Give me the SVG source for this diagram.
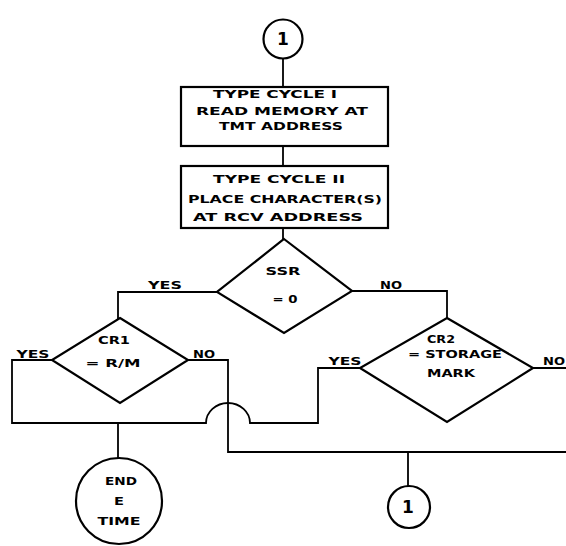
<svg xmlns="http://www.w3.org/2000/svg" width="566" height="546" viewBox="0 0 566 546">
<style>
.shape{fill:#fff;stroke:#000;stroke-width:2.2}
.conn{fill:none;stroke:#000;stroke-width:1.8}
text{font-family:"DejaVu Sans","Liberation Sans",sans-serif;font-weight:bold;font-size:10.5px;fill:#000;text-anchor:middle}
.num{font-size:17px;font-weight:bold}
</style>
<rect width="566" height="546" fill="#fff"/>
<g id="connectors">
<path class="conn" d="M283,58 V87"/>
<path class="conn" d="M283,146 V166"/>
<path class="conn" d="M283,228 V239"/>
<path class="conn" d="M217,292 H118 V319"/>
<path class="conn" d="M352,291 H447 V318"/>
<path class="conn" d="M52,360 H12 V423 H206 A22,20 0 0 1 250,423 H318 V368 H360"/>
<path class="conn" d="M118,423 V458"/>
<path class="conn" d="M188,360 H228 V452 H566"/>
<path class="conn" d="M408,452 V486"/>
<path class="conn" d="M533,368 H566"/>
</g>
<g id="labels">
<text x="165" y="289" textLength="34" lengthAdjust="spacingAndGlyphs">YES</text>
<text x="391" y="289" textLength="22" lengthAdjust="spacingAndGlyphs">NO</text>
<text x="33" y="358" textLength="33" lengthAdjust="spacingAndGlyphs">YES</text>
<text x="204" y="358" textLength="22" lengthAdjust="spacingAndGlyphs">NO</text>
<text x="345" y="365" textLength="33" lengthAdjust="spacingAndGlyphs">YES</text>
<text x="554" y="365" textLength="22" lengthAdjust="spacingAndGlyphs">NO</text>
</g>
<g id="start">
<circle class="shape" cx="283" cy="39" r="19.5"/>
<text class="num" x="283" y="45">1</text>
</g>
<g id="cycle1">
<rect class="shape" x="181" y="87" width="207" height="59"/>
<text x="275" y="98" textLength="124" lengthAdjust="spacingAndGlyphs">TYPE CYCLE I</text>
<text x="282" y="115" textLength="172" lengthAdjust="spacingAndGlyphs">READ MEMORY AT</text>
<text x="281" y="130" textLength="124" lengthAdjust="spacingAndGlyphs">TMT ADDRESS</text>
</g>
<g id="cycle2">
<rect class="shape" x="181" y="166" width="207" height="62"/>
<text x="279" y="183" textLength="132" lengthAdjust="spacingAndGlyphs">TYPE CYCLE II</text>
<text x="285" y="203" textLength="194" lengthAdjust="spacingAndGlyphs">PLACE CHARACTER(S)</text>
<text x="278" y="221" textLength="170" lengthAdjust="spacingAndGlyphs">AT RCV ADDRESS</text>
</g>
<g id="ssr">
<polygon class="shape" points="284,239 352,291 284,333 217,292"/>
<text x="283" y="275" textLength="35" lengthAdjust="spacingAndGlyphs">SSR</text>
<text x="285" y="303" textLength="25" lengthAdjust="spacingAndGlyphs">= 0</text>
</g>
<g id="cr1">
<polygon class="shape" points="120,318 188,360 120,403 52,360"/>
<text x="114" y="344" textLength="32" lengthAdjust="spacingAndGlyphs">CR1</text>
<text x="113" y="367" textLength="55" lengthAdjust="spacingAndGlyphs">= R/M</text>
</g>
<g id="cr2">
<polygon class="shape" points="447,318 533,368 447,422 360,368"/>
<text x="441" y="343" textLength="28" lengthAdjust="spacingAndGlyphs">CR2</text>
<text x="455" y="358" textLength="94" lengthAdjust="spacingAndGlyphs">= STORAGE</text>
<text x="451" y="377" textLength="48" lengthAdjust="spacingAndGlyphs">MARK</text>
</g>
<g id="end">
<circle class="shape" cx="119" cy="501" r="43"/>
<text x="121" y="485" textLength="32" lengthAdjust="spacingAndGlyphs">END</text>
<text x="119" y="505" textLength="10" lengthAdjust="spacingAndGlyphs">E</text>
<text x="119" y="525" textLength="43" lengthAdjust="spacingAndGlyphs">TIME</text>
</g>
<g id="connector1">
<circle class="shape" cx="409" cy="507" r="21"/>
<text class="num" x="408" y="513">1</text>
</g>
</svg>
